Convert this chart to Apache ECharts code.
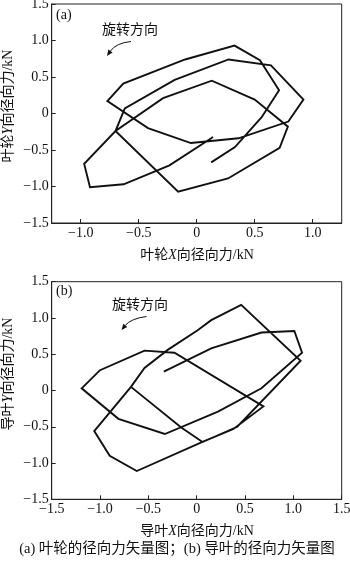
<!DOCTYPE html>
<html>
<head>
<meta charset="utf-8">
<script src="https://cdn.jsdelivr.net/npm/echarts@6/dist/echarts.min.js"></script>
<style>
html,body{margin:0;padding:0;background:#fff;}
#c{width:350px;height:561px;}
</style>
</head>
<body>
<div id="c"></div>
<script>
// (a) impeller radial force vector path (kN)
var impellerX = [0.125, 0.33, 0.56, 0.71, 0.545, 0.326, -0.10, -0.633, -0.77, -0.42, -0.05, 0.36, 0.79, 0.92, 0.64, 0.275, -0.19, -0.62, -0.70, -0.16, 0.27, 0.715, 0.786, 0.50, 0.13, -0.29, -0.70, -0.97, -0.92, -0.63, -0.235, 0.125, 0.14];
var impellerY = [-0.67, -0.46, -0.05, 0.32, 0.73, 0.93, 0.74, 0.41, 0.17, -0.20, -0.405, -0.34, -0.11, 0.19, 0.66, 0.74, 0.46, 0.07, -0.24, -1.07, -0.89, -0.47, -0.18, 0.19, 0.45, 0.21, -0.24, -0.69, -1.01, -0.97, -0.71, -0.34, -0.32];
// (b) guide vane radial force vector path (kN)
var guideX = [-0.34, 0.15, 0.67, 1.01, 1.09, 0.67, 0.22, -0.33, -0.81, -1.19, -1.00, -0.54, -0.23, 0.69, 0.38, 0.06, -0.62, -0.90, -1.06, -0.68, -0.54, -0.30, 0.01, 0.15, 0.46, 1.075, 0.42, 0.06, -0.16, -0.68];
var guideY = [0.26, 0.58, 0.80, 0.82, 0.52, 0.03, -0.29, -0.60, -0.39, 0.03, 0.28, 0.55, 0.52, -0.22, -0.53, -0.71, -1.11, -0.90, -0.56, 0.05, 0.31, 0.56, 0.83, 0.97, 1.18, 0.41, -0.50, -0.71, -0.51, 0.05];
// tick labels
var ticksA = [-1.0, -0.5, 0, 0.5, 1.0];
var ticksB = [-1.5, -1.0, -0.5, 0, 0.5, 1.0, 1.5];
var titlesA = {x: '叶轮{i|X}向径向力/kN', y: '叶轮{i|Y}向径向力/kN', tag: '(a)'};
var titlesB = {x: '导叶{i|X}向径向力/kN', y: '导叶{i|Y}向径向力/kN', tag: '(b)'};
var rotationText = '旋转方向';
var caption = '(a) 叶轮的径向力矢量图；(b) 导叶的径向力矢量图';

function pairs(xs, ys){ return xs.map(function(x,i){ return [x, ys[i]]; }); }
var FONT = '"Liberation Serif","Noto Sans CJK SC",serif';
function fmt(v){
  if (Math.abs(v) < 1e-9) return '0';
  return (v < 0 ? '\u2212' : '') + Math.abs(v).toFixed(1);
}
function axis(gridIndex, min, max, ticks){
  return {
    type: 'value', gridIndex: gridIndex, min: min, max: max,
    axisLine: {show: true, onZero: false, lineStyle: {color: '#222', width: 1}},
    axisTick: {show: true, inside: true, length: 4, customValues: ticks, lineStyle: {color: '#222'}},
    axisLabel: {show: true, customValues: ticks, formatter: fmt, color: '#111', fontFamily: FONT, fontSize: 14, margin: 3},
    splitLine: {show: false}
  };
}
function gtext(x, y, text, opts){
  opts = opts || {};
  var size = opts.size || 14;
  return {
    type: 'text', x: x, y: y, rotation: opts.rot || 0, z: 100,
    style: {text: text, fill: '#111', fontFamily: FONT, fontSize: size,
      align: opts.align || 'center', verticalAlign: 'middle',
      rich: {i: {fontStyle: 'italic', fontFamily: FONT, fontSize: size, fill: '#111'}}}
  };
}
function arrow(t, c, h){
  var dx = h[0]-c[0], dy = h[1]-c[1], L = Math.sqrt(dx*dx+dy*dy);
  dx /= L; dy /= L;
  var len = 6, hw = 2.6;
  var bx = h[0]-dx*len, by = h[1]-dy*len;
  return [
    {type: 'bezierCurve', z: 100, shape: {x1: t[0], y1: t[1], cpx1: c[0], cpy1: c[1], x2: bx, y2: by},
     style: {stroke: '#111', lineWidth: 1, fill: null}},
    {type: 'polygon', z: 100, shape: {points: [[h[0],h[1]], [bx - dy*hw, by + dx*hw], [bx + dy*hw, by - dx*hw]]},
     style: {fill: '#111'}}
  ];
}

var chart = echarts.init(document.getElementById('c'), null, {renderer: 'canvas'});
var gridStyle = {show: true, borderColor: '#222', borderWidth: 1, containLabel: false, outerBoundsMode: 'none'};
var graphics = [
  gtext(8, 106, titlesA.y, {rot: Math.PI/2}),
  gtext(197, 255, titlesA.x),
  gtext(56, 15, titlesA.tag, {align: 'left'}),
  gtext(130, 30, rotationText),
  gtext(8, 374, titlesB.y, {rot: Math.PI/2}),
  gtext(197, 531, titlesB.x),
  gtext(56, 291, titlesB.tag, {align: 'left'}),
  gtext(140, 305, rotationText),
  gtext(177, 549, caption, {size: 14.5})
].concat(arrow([131, 41.5], [116, 43], [107, 56]))
 .concat(arrow([146.5, 316.5], [131, 318.5], [121.5, 330]));

chart.setOption({
  animation: false,
  backgroundColor: '#fff',
  grid: [
    Object.assign({left: 51.7, top: 4, width: 290, height: 219}, gridStyle),
    Object.assign({left: 51.7, top: 281.7, width: 290, height: 217.6}, gridStyle)
  ],
  xAxis: [axis(0, -1.25, 1.25, ticksA), axis(1, -1.5, 1.5, ticksB)],
  yAxis: [axis(0, -1.5, 1.5, ticksB), axis(1, -1.5, 1.5, ticksB)],
  series: [
    {type: 'line', xAxisIndex: 0, yAxisIndex: 0, data: pairs(impellerX, impellerY), showSymbol: false, symbol: 'none',
     lineStyle: {color: '#111', width: 1.9, join: 'miter'}, silent: true},
    {type: 'line', xAxisIndex: 1, yAxisIndex: 1, data: pairs(guideX, guideY), showSymbol: false, symbol: 'none',
     lineStyle: {color: '#111', width: 1.9, join: 'miter'}, silent: true}
  ],
  graphic: graphics
});
</script>
</body>
</html>
